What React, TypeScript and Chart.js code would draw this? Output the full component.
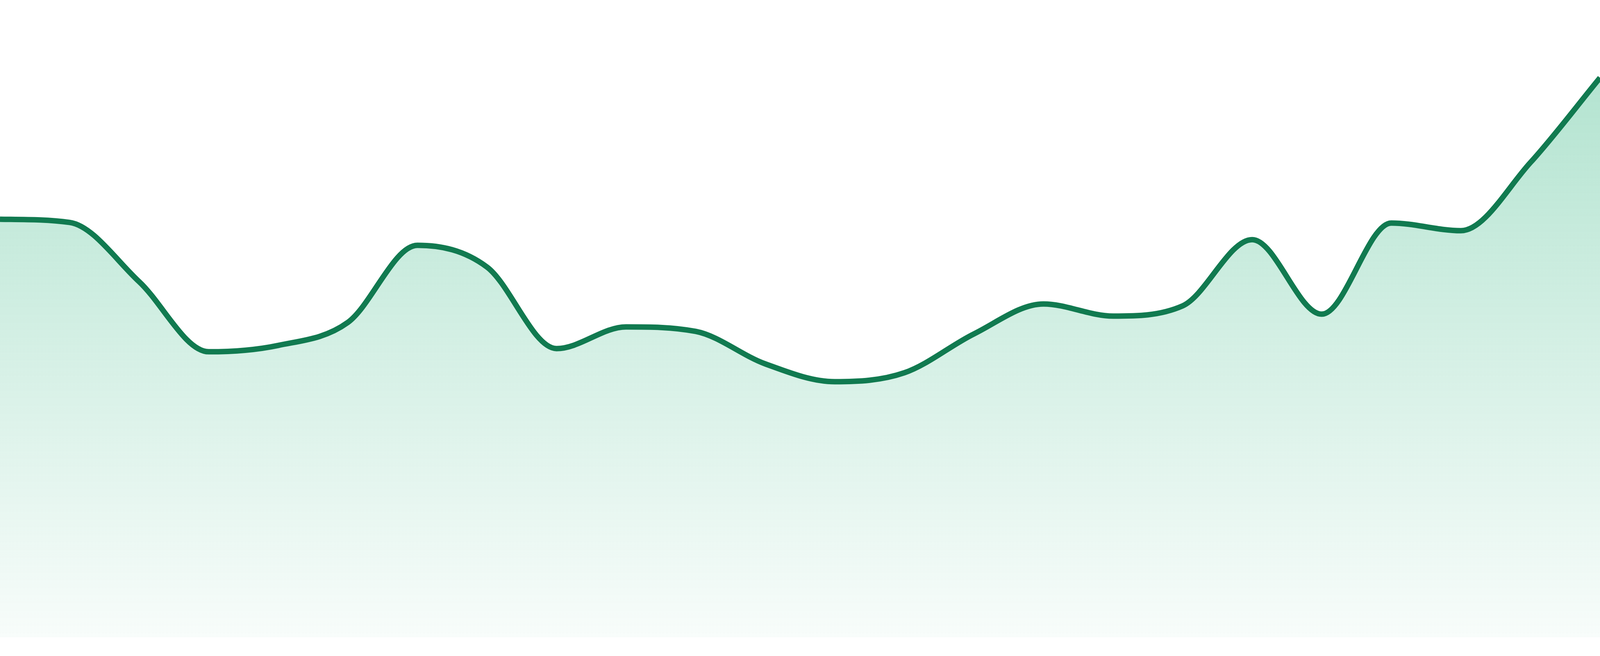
import Chart from 'chart.js/auto';
import { useEffect, useRef } from 'react';

// 24 evenly spaced samples
const labels = [
  'W1', 'W2', 'W3', 'W4', 'W5', 'W6', 'W7', 'W8', 'W9', 'W10', 'W11', 'W12',
  'W13', 'W14', 'W15', 'W16', 'W17', 'W18', 'W19', 'W20', 'W21', 'W22', 'W23', 'W24'
];
const values = [
  65.6, 65.1, 55.8, 44.8, 45.8, 49.4, 61.5, 58.1, 45.3, 48.7, 48.0, 42.9,
  40.1, 41.5, 47.6, 52.3, 50.4, 52.0, 62.4, 50.7, 65.0, 63.8, 74.5, 87.8
];
const yRange = [0, 100];

const lineColor = '#117a50';

const AreaChart = () => {
  const chartRef = useRef<HTMLCanvasElement | null>(null);

  useEffect(() => {
    if (!chartRef.current) return;
    const context = chartRef.current.getContext('2d');
    if (!context) return;

    const myChart = new Chart(context, {
      type: 'line',
      data: {
        labels,
        datasets: [
          {
            data: values,
            borderColor: lineColor,
            borderWidth: 14,
            cubicInterpolationMode: 'monotone',
            pointRadius: 0,
            fill: 'start',
            backgroundColor: (ctx: any) => {
              const area = ctx.chart.chartArea;
              if (!area) return 'rgba(20,170,110,0.2)';
              const g = ctx.chart.ctx.createLinearGradient(0, area.top, 0, area.bottom);
              g.addColorStop(0, 'rgba(20,170,110,0.36)');
              g.addColorStop(1, 'rgba(20,170,110,0.03)');
              return g;
            }
          }
        ]
      },
      options: {
        animation: false,
        responsive: true,
        maintainAspectRatio: false,
        layout: { padding: { top: 0, left: 0, right: 0, bottom: 48 } },
        scales: {
          x: { display: false, offset: false },
          y: { display: false, min: yRange[0], max: yRange[1] }
        },
        plugins: {
          legend: { display: false },
          tooltip: { enabled: false }
        }
      }
    });

    return () => myChart.destroy();
  }, []);

  return <canvas ref={chartRef} />;
};

export default function App() {
  // fill the whole viewport, no body margin
  return (
    <div style={{ position: 'fixed', left: 0, top: 0, width: '100vw', height: '100vh', background: '#fff' }}>
      <AreaChart />
    </div>
  );
}
